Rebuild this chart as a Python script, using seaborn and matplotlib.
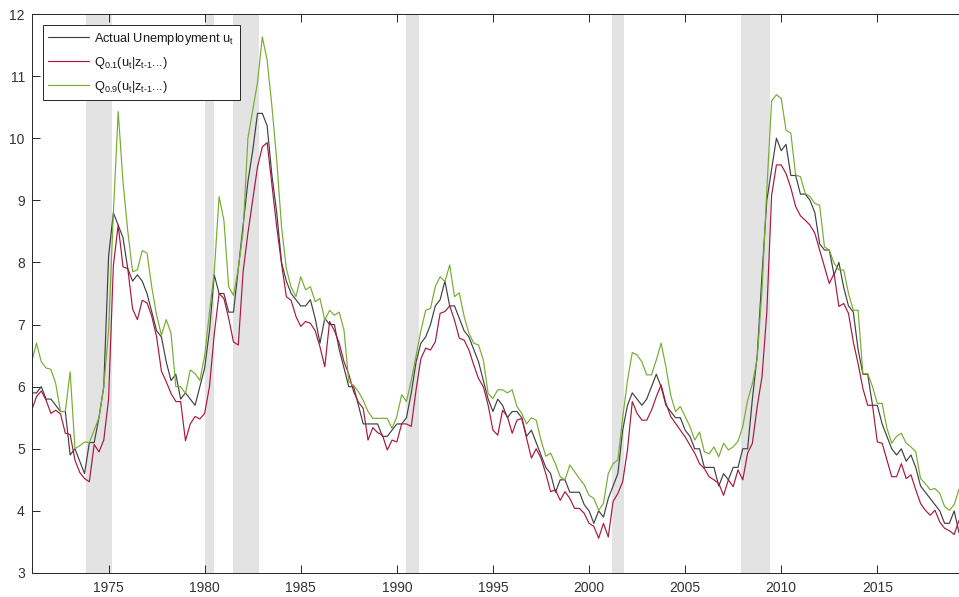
import numpy as np
import pandas as pd
import matplotlib
matplotlib.use("Agg")
import matplotlib.pyplot as plt
import seaborn as sns

# ---------------- data (quarterly, starting 1971 Q1) ----------------
start_year = 1971

actual = [
    5.9, 5.9, 6.0, 5.8,   5.8, 5.7, 5.6, 5.6,   4.9, 5.0, 4.8, 4.6,   5.1, 5.1, 5.5, 6.0,
    8.1, 8.8, 8.6, 8.4,   7.9, 7.7, 7.8, 7.7,   7.5, 7.2, 6.9, 6.8,   6.4, 6.1, 6.2, 5.8,
    5.9, 5.8, 5.7, 6.0,   6.3, 6.9, 7.8, 7.5,   7.5, 7.2, 7.2, 7.9,   8.6, 9.3, 9.8, 10.4,
    10.4, 10.2, 9.4, 8.8, 8.0, 7.7, 7.5, 7.4,   7.3, 7.3, 7.4, 7.1,   6.7, 7.1, 7.0, 7.0,
    6.6, 6.3, 6.0, 6.0,   5.7, 5.4, 5.4, 5.4,   5.4, 5.2, 5.2, 5.3,   5.4, 5.4, 5.5, 5.9,
    6.4, 6.7, 6.8, 7.0,   7.3, 7.4, 7.7, 7.3,   7.3, 7.1, 6.9, 6.8,   6.6, 6.4, 6.1, 5.8,
    5.6, 5.8, 5.7, 5.5,   5.6, 5.6, 5.5, 5.2,   5.3, 5.1, 4.9, 4.7,   4.6, 4.3, 4.5, 4.5,
    4.3, 4.3, 4.3, 4.1,   4.0, 3.8, 4.0, 3.9,   4.2, 4.4, 4.6, 5.3,   5.7, 5.9, 5.8, 5.7,
    5.8, 6.0, 6.2, 6.0,   5.7, 5.6, 5.5, 5.5,   5.3, 5.2, 5.0, 5.0,   4.7, 4.7, 4.7, 4.4,
    4.6, 4.5, 4.7, 4.7,   5.0, 5.0, 5.8, 6.5,   7.8, 9.0, 9.5, 10.0,  9.8, 9.9, 9.4, 9.4,
    9.1, 9.1, 9.0, 8.8,   8.3, 8.2, 8.2, 7.8,   8.0, 7.6, 7.3, 7.2,   6.6, 6.2, 6.2, 5.7,
    5.7, 5.4, 5.2, 5.0,   4.9, 5.0, 4.8, 4.9,   4.7, 4.4, 4.3, 4.2,   4.1, 4.0, 3.8, 3.8,
    4.0, 3.65,
]

q10 = [
    5.62, 5.84, 5.93, 5.78,  5.57, 5.62, 5.56, 5.25,  5.23, 4.82, 4.62, 4.52,  4.47, 5.07, 4.95, 5.14,
    5.80, 7.95, 8.60, 7.93,  7.90, 7.25, 7.08, 7.39,  7.35, 7.13, 6.80, 6.25,  6.08, 5.89, 5.76, 5.76,
    5.13, 5.40, 5.52, 5.48,  5.57, 6.00, 6.85, 7.50,  7.42, 7.10, 6.72, 6.67,  7.85, 8.47, 9.00, 9.54,
    9.86, 9.93, 9.25, 8.57,  7.98, 7.45, 7.39, 7.13,  6.97, 7.05, 7.02, 6.90,  6.64, 6.32, 7.05, 6.90,
    6.70, 6.40, 6.20, 5.92,  5.75, 5.65, 5.14, 5.34,  5.26, 5.22, 4.98, 5.14,  5.11, 5.40, 5.40, 5.36,
    5.95, 6.45, 6.62, 6.59,  6.72, 7.18, 7.21, 7.30,  7.07, 6.78, 6.75, 6.59,  6.35, 6.13, 6.00, 5.70,
    5.30, 5.22, 5.62, 5.52,  5.25, 5.46, 5.49, 5.17,  4.85, 5.00, 4.85, 4.60,  4.31, 4.34, 4.17, 4.31,
    4.20, 4.04, 4.04, 3.96,  3.80, 3.75, 3.56, 3.80,  3.58, 4.15, 4.28, 4.47,  4.98, 5.76, 5.57, 5.46,
    5.46, 5.62, 5.84, 6.03,  5.73, 5.52, 5.41, 5.30,  5.19, 5.06, 4.93, 4.76,  4.68, 4.55, 4.50, 4.44,
    4.25, 4.50, 4.39, 4.66,  4.50, 4.93, 5.09, 5.68,  6.16, 7.20, 9.08, 9.57,  9.57, 9.43, 9.20, 8.90,
    8.75, 8.68, 8.60, 8.47,  8.20, 7.93, 7.66, 7.82,  7.29, 7.34, 7.18, 6.72,  6.37, 5.97, 5.70, 5.70,
    5.11, 5.09, 4.82, 4.55,  4.55, 4.76, 4.52, 4.58,  4.34, 4.12, 4.01, 3.93,  4.01, 3.82, 3.72, 3.68,
    3.62, 3.85,
]

q90 = [
    6.40, 6.70, 6.40, 6.30,  6.28, 6.05, 5.60, 5.60,  6.24, 5.00, 5.05, 5.11,  5.10, 5.30, 5.50, 6.00,
    6.90, 8.80, 10.43, 9.30, 8.50, 7.85, 7.88, 8.19,  8.15, 7.60, 7.15, 6.83,  7.08, 6.86, 6.00, 6.00,
    5.89, 6.27, 6.21, 6.10,  6.50, 7.20, 7.85, 9.06,  8.68, 7.61, 7.47, 7.90,  8.50, 10.00, 10.45, 10.90,
    11.63, 11.26, 10.51, 9.65, 8.57, 7.90, 7.60, 7.45, 7.77, 7.56, 7.61, 7.37, 7.42, 7.07, 7.23, 7.15,
    7.20, 6.91, 6.08, 6.02,  5.92, 5.78, 5.60, 5.49,  5.49, 5.49, 5.49, 5.33,  5.52, 5.87, 5.76, 6.10,
    6.50, 6.90, 7.23, 7.26,  7.61, 7.77, 7.69, 7.96,  7.45, 7.51, 7.13, 6.86,  6.70, 6.67, 6.43, 5.89,
    5.81, 5.95, 5.95, 5.90,  5.95, 5.68, 5.57, 5.40,  5.50, 5.46, 5.14, 4.88,  4.93, 4.76, 4.55, 4.50,
    4.74, 4.63, 4.52, 4.42,  4.25, 4.20, 4.01, 4.12,  4.60, 4.76, 4.82, 5.50,  6.10, 6.55, 6.51, 6.40,
    6.19, 6.19, 6.43, 6.70,  6.32, 5.86, 5.60, 5.68,  5.52, 5.36, 5.14, 5.27,  4.95, 4.92, 5.03, 4.87,
    5.09, 4.98, 5.03, 5.12,  5.36, 5.78, 6.05, 6.45,  7.56, 9.17, 10.60, 10.70, 10.64, 10.13, 10.08, 9.41,
    9.38, 9.11, 9.06, 8.95,  8.92, 8.25, 8.20, 7.99,  7.88, 7.88, 7.50, 7.23,  7.23, 6.21, 6.21, 6.00,
    5.73, 5.73, 5.33, 5.09,  5.20, 5.25, 5.09, 5.03,  4.95, 4.52, 4.44, 4.34,  4.36, 4.28, 4.07, 4.01,
    4.10, 4.35,
]

recession_start = [1973.83, 1980.00, 1981.50, 1990.50, 2001.17, 2007.92]
recession_end = [1975.17, 1980.50, 1982.83, 1991.17, 2001.83, 2009.42]

series_labels = [
    r"Actual Unemployment u$_\mathregular{t}$",
    "Q$_\\mathregular{0.1}$(u$_\\mathregular{t}$|z$_\\mathregular{t\u20101}$...)",
    "Q$_\\mathregular{0.9}$(u$_\\mathregular{t}$|z$_\\mathregular{t\u20101}$...)",
]
x_ticks = [1975, 1980, 1985, 1990, 1995, 2000, 2005, 2010, 2015]
y_ticks = [3, 4, 5, 6, 7, 8, 9, 10, 11, 12]

# ---------------- build table ----------------
n = len(actual)
time = start_year + np.arange(n) / 4.0
df = pd.DataFrame({"time": time, "actual": actual, "q10": q10, "q90": q90})

# ---------------- styling ----------------
sns.set_theme(style="white")
plt.rcParams["font.family"] = ["Liberation Sans", "DejaVu Sans"]
plt.rcParams["mathtext.fontset"] = "custom"
plt.rcParams["mathtext.rm"] = "Liberation Sans"
plt.rcParams["mathtext.it"] = "Liberation Sans"

W, H = 959, 597
fig = plt.figure(figsize=(W / 100, H / 100), dpi=100)
left_px, right_px, top_px, bottom_px = 31.7, 959.0, 14.0, 573.0
ax = fig.add_axes([left_px / W, 1 - bottom_px / H,
                   (right_px - left_px) / W, (bottom_px - top_px) / H])

for a, b in zip(recession_start, recession_end):
    ax.axvspan(a, b, color="#e3e3e3", lw=0, zorder=0)

sns.lineplot(data=df, x="time", y="actual", ax=ax, color="#404040",
             linewidth=0.85, label=series_labels[0], estimator=None, sort=False)
sns.lineplot(data=df, x="time", y="q10", ax=ax, color="#A8173F",
             linewidth=0.85, label=series_labels[1], estimator=None, sort=False)
sns.lineplot(data=df, x="time", y="q90", ax=ax, color="#77AC30",
             linewidth=0.85, label=series_labels[2], estimator=None, sort=False)

ax.set_xlim(start_year, time[-1])
ax.set_ylim(3, 12)
ax.set_xticks(x_ticks)
ax.set_yticks(y_ticks)
ax.set_xlabel("")
ax.set_ylabel("")

axis_col = "#262626"
for side in ["left", "top", "bottom"]:
    ax.spines[side].set_visible(True)
    ax.spines[side].set_color(axis_col)
    ax.spines[side].set_linewidth(0.7)
ax.spines["right"].set_visible(False)

ax.tick_params(axis="x", which="major", direction="in", length=5.5, width=0.7,
               colors=axis_col, labelsize=10, pad=6, top=True, bottom=True)
ax.tick_params(axis="y", which="major", direction="in", length=5.5, width=0.7,
               colors=axis_col, labelsize=10, pad=5, left=True, right=False)
for lab in ax.get_xticklabels() + ax.get_yticklabels():
    lab.set_color("#333333")

leg = ax.legend(loc="upper left",
                bbox_to_anchor=((42.7 - left_px) / (right_px - left_px),
                                (bottom_px - 25.0) / (bottom_px - top_px)),
                borderaxespad=0, fontsize=9.2, frameon=True, fancybox=False,
                handlelength=3.2, handletextpad=0.4, labelspacing=0.62,
                borderpad=0.45)
leg.get_frame().set_edgecolor(axis_col)
leg.get_frame().set_linewidth(0.7)
leg.get_frame().set_facecolor("white")
leg.get_frame().set_alpha(1.0)
for t in leg.get_texts():
    t.set_color("#1a1a1a")

fig.savefig("out.png", dpi=100)
